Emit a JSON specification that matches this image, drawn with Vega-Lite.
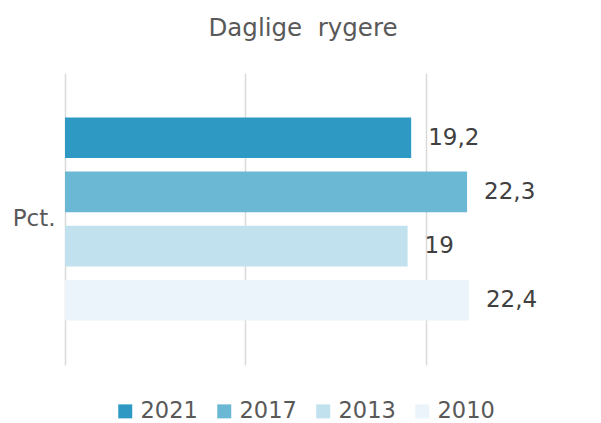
{
  "$schema": "https://vega.github.io/schema/vega-lite/v6.json",
  "width": 476,
  "height": 292,
  "autosize": "none",
  "padding": {"left": 65, "top": 73, "right": 60, "bottom": 58},
  "background": "white",
  "config": {
    "locale": {"number": {"decimal": ",", "thousands": ".", "grouping": [3], "currency": ["", " kr."]}},
    "font": "DejaVu Sans",
    "view": {"stroke": null}
  },
  "title": {
    "text": "Daglige\u00a0 rygere",
    "fontSize": 24.5,
    "fontWeight": "normal",
    "color": "#595959",
    "font": "DejaVu Sans",
    "anchor": "middle",
    "offset": 32
  },
  "data": {
    "values": [
      {"kategori": "Pct.", "aar": "2021", "vaerdi": 19.2},
      {"kategori": "Pct.", "aar": "2017", "vaerdi": 22.3},
      {"kategori": "Pct.", "aar": "2013", "vaerdi": 19},
      {"kategori": "Pct.", "aar": "2010", "vaerdi": 22.4}
    ]
  },
  "encoding": {
    "y": {
      "field": "kategori",
      "type": "nominal",
      "scale": {"paddingInner": 0, "paddingOuter": 0},
      "axis": {
        "title": null,
        "ticks": false,
        "domain": false,
        "labelFontSize": 23,
        "labelColor": "#595959",
        "labelPadding": 10,
        "labelFont": "DejaVu Sans"
      }
    },
    "yOffset": {
      "field": "aar",
      "type": "nominal",
      "sort": ["2021", "2017", "2013", "2010"],
      "scale": {"paddingInner": 0.25, "paddingOuter": 0.82}
    },
    "x": {
      "field": "vaerdi",
      "type": "quantitative",
      "scale": {"domain": [0, 26.4], "nice": false, "zero": true},
      "axis": {
        "title": null,
        "values": [0, 10, 20],
        "labels": false,
        "ticks": false,
        "domain": false,
        "grid": true,
        "gridColor": "#d9d9d9",
        "gridWidth": 1.5
      }
    }
  },
  "layer": [
    {
      "mark": {"type": "bar"},
      "encoding": {
        "color": {
          "field": "aar",
          "type": "nominal",
          "sort": ["2021", "2017", "2013", "2010"],
          "scale": {
            "domain": ["2021", "2017", "2013", "2010"],
            "range": ["#2E9AC4", "#6BB8D4", "#C1E1EE", "#EAF4FA"]
          },
          "legend": {
            "title": null,
            "orient": "none",
            "direction": "horizontal",
            "columns": 4,
            "legendX": 49,
            "legendY": 327,
            "padding": 0,
            "symbolType": "square",
            "symbolSize": 196,
            "symbolStrokeWidth": 0,
            "symbolOpacity": 1,
            "labelFontSize": 22.5,
            "labelColor": "#595959",
            "labelFont": "DejaVu Sans",
            "labelOffset": 4,
            "columnPadding": 15
          }
        }
      }
    },
    {
      "mark": {
        "type": "text",
        "align": "left",
        "baseline": "middle",
        "dx": 17,
        "fontSize": 23,
        "color": "#404040",
        "font": "DejaVu Sans"
      },
      "encoding": {
        "text": {"field": "vaerdi", "type": "quantitative", "format": ".1~f"}
      }
    }
  ]
}
